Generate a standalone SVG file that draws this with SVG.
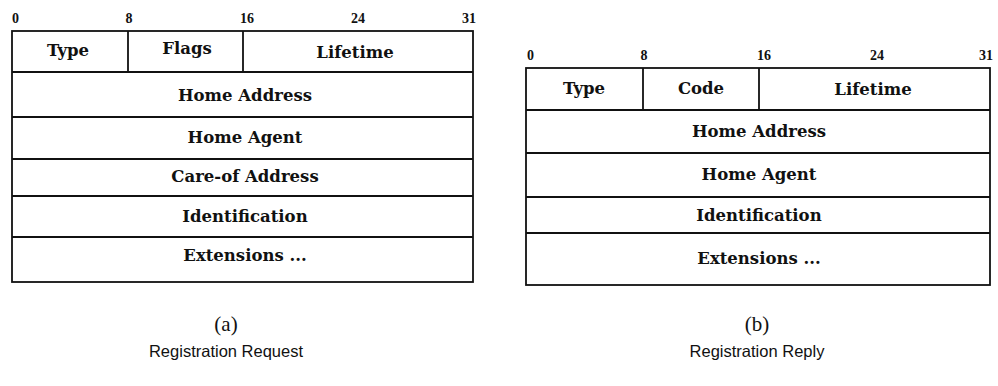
<svg xmlns="http://www.w3.org/2000/svg" width="998" height="386" viewBox="0 0 998 386">
  <style>
    .box { fill: none; stroke: #111; stroke-width: 1.8; }
    .field { font-family: "DejaVu Serif", "Liberation Serif", serif; font-weight: bold; font-size: 16.5px; fill: #111; text-anchor: middle; }
    .bit { font-family: "Liberation Serif", "DejaVu Serif", serif; font-weight: bold; font-size: 14px; fill: #111; }
    .tag { font-family: "Liberation Serif", "DejaVu Serif", serif; font-size: 21px; fill: #111; text-anchor: middle; }
    .cap { font-family: "Liberation Sans", "DejaVu Sans", sans-serif; font-size: 16.5px; fill: #111; text-anchor: middle; }
  </style>
  <rect width="998" height="386" fill="#fff"/>

  <!-- (a) Registration Request -->
  <g id="request">
    <g id="request-bits">
      <text class="bit" x="12" y="23">0</text>
      <text class="bit" x="129" y="23" text-anchor="middle">8</text>
      <text class="bit" x="247" y="23" text-anchor="middle">16</text>
      <text class="bit" x="358" y="23" text-anchor="middle">24</text>
      <text class="bit" x="476" y="23" text-anchor="end">31</text>
    </g>
    <g id="request-frame">
      <rect class="box" x="12" y="31" width="461" height="251"/>
      <line class="box" x1="128" y1="31" x2="128" y2="72"/>
      <line class="box" x1="243" y1="31" x2="243" y2="72"/>
      <line class="box" x1="12" y1="72" x2="473" y2="72"/>
      <line class="box" x1="12" y1="117" x2="473" y2="117"/>
      <line class="box" x1="12" y1="159" x2="473" y2="159"/>
      <line class="box" x1="12" y1="196" x2="473" y2="196"/>
      <line class="box" x1="12" y1="237" x2="473" y2="237"/>
    </g>
    <g id="request-fields">
      <text class="field" x="68" y="56">Type</text>
      <text class="field" x="187" y="54">Flags</text>
      <text class="field" x="355" y="58">Lifetime</text>
      <text class="field" x="245" y="101">Home Address</text>
      <text class="field" x="245" y="143">Home Agent</text>
      <text class="field" x="245" y="182">Care-of Address</text>
      <text class="field" x="245" y="222">Identification</text>
      <text class="field" x="245" y="261">Extensions ...</text>
    </g>
    <text class="tag" x="226" y="331">(a)</text>
    <text class="cap" x="226" y="357">Registration Request</text>
  </g>

  <!-- (b) Registration Reply -->
  <g id="reply">
    <g id="reply-bits">
      <text class="bit" x="527" y="60">0</text>
      <text class="bit" x="644" y="60" text-anchor="middle">8</text>
      <text class="bit" x="764" y="60" text-anchor="middle">16</text>
      <text class="bit" x="877" y="60" text-anchor="middle">24</text>
      <text class="bit" x="993" y="60" text-anchor="end">31</text>
    </g>
    <g id="reply-frame">
      <rect class="box" x="526" y="68" width="464" height="217"/>
      <line class="box" x1="643" y1="68" x2="643" y2="110"/>
      <line class="box" x1="759" y1="68" x2="759" y2="110"/>
      <line class="box" x1="526" y1="110" x2="990" y2="110"/>
      <line class="box" x1="526" y1="153" x2="990" y2="153"/>
      <line class="box" x1="526" y1="197" x2="990" y2="197"/>
      <line class="box" x1="526" y1="233" x2="990" y2="233"/>
    </g>
    <g id="reply-fields">
      <text class="field" x="584" y="94">Type</text>
      <text class="field" x="701" y="94">Code</text>
      <text class="field" x="873" y="95">Lifetime</text>
      <text class="field" x="759" y="137">Home Address</text>
      <text class="field" x="759" y="180">Home Agent</text>
      <text class="field" x="759" y="221">Identification</text>
      <text class="field" x="759" y="264">Extensions ...</text>
    </g>
    <text class="tag" x="757" y="331">(b)</text>
    <text class="cap" x="757" y="357">Registration Reply</text>
  </g>
</svg>
